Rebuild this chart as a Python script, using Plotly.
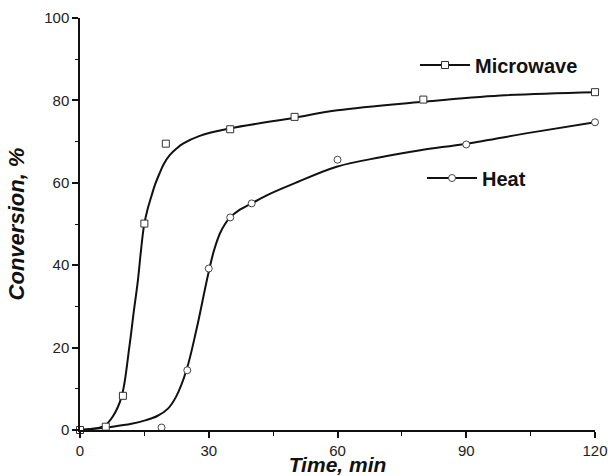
import plotly.graph_objects as go

# Measured points
mw_time = [0, 6, 10, 15, 20, 35, 50, 80, 120]
mw_conv = [0, 0.8, 8.3, 50.1, 69.5, 73, 76, 80.2, 82]
heat_time = [19, 25, 30, 35, 40, 60, 90, 120]
heat_conv = [0.6, 14.5, 39.2, 51.6, 55, 65.6, 69.3, 74.7]

# Fitted curves
mw_fit_time = [0, 3, 5.7, 7.6, 9.7, 11.5, 12.5, 13.5, 14.2, 14.9, 15.8, 16.6, 17.5, 18.5,
               19.5, 20.9, 22.5, 24, 27.9, 35, 50, 60, 79.3, 98, 120]
mw_fit_conv = [0, 0.3, 1, 3.2, 8.1, 20.2, 28.5, 36.4, 43.5, 49.5, 53.8, 56.6, 59.6, 62.2,
               64.5, 66.7, 68.3, 69.5, 71.4, 73.2, 75.8, 77.6, 79.6, 81.2, 82]
heat_fit_time = [0, 7.6, 12, 15.4, 18, 20.5, 22.4, 24.8, 27.1, 29.8, 31.2, 32.6, 33.8, 35, 37,
                 40, 44, 49.8, 59.8, 70, 79.3, 90, 105.7, 120]
heat_fit_conv = [0, 0.8, 1.5, 2.4, 3.4, 5.2, 8.1, 14.5, 24.2, 37.5, 43.5, 47.7, 50, 51.6, 53.3,
                 55, 57.2, 59.8, 63.9, 66.2, 67.9, 69.5, 72.3, 74.7]

ink = "#111111"
fig = go.Figure()

fig.add_trace(go.Scatter(x=mw_fit_time, y=mw_fit_conv, mode="lines",
                         line=dict(color=ink, width=2, shape="spline", smoothing=1.0),
                         showlegend=False, hoverinfo="skip"))
fig.add_trace(go.Scatter(x=heat_fit_time, y=heat_fit_conv, mode="lines",
                         line=dict(color=ink, width=2, shape="spline", smoothing=1.0),
                         showlegend=False, hoverinfo="skip"))
fig.add_trace(go.Scatter(x=mw_time, y=mw_conv, mode="markers", cliponaxis=False,
                         marker=dict(symbol="square", size=7, color="white",
                                     line=dict(color="#333", width=1)),
                         showlegend=False))
fig.add_trace(go.Scatter(x=heat_time, y=heat_conv, mode="markers", cliponaxis=False,
                         marker=dict(symbol="circle", size=7, color="white",
                                     line=dict(color="#444", width=1)),
                         showlegend=False))

# legend entries
fig.add_trace(go.Scatter(x=[None], y=[None], mode="lines+markers", name="Microwave",
                         line=dict(color=ink, width=2),
                         marker=dict(symbol="square", size=7, color="white",
                                     line=dict(color="#333", width=1)),
                         legend="legend"))
fig.add_trace(go.Scatter(x=[None], y=[None], mode="lines+markers", name="Heat",
                         line=dict(color=ink, width=2),
                         marker=dict(symbol="circle", size=7, color="white",
                                     line=dict(color="#444", width=1)),
                         legend="legend2"))

axis_common = dict(showline=True, linecolor=ink, linewidth=1.5, showgrid=False,
                   zeroline=False, ticks="outside", tickcolor=ink, tickwidth=1.5,
                   automargin=False,
                   tickfont=dict(family="Arial", size=15, color="#222"))

legend_font = dict(family="Arial", size=20, color=ink, weight="bold")

fig.update_layout(
    width=608, height=476,
    margin=dict(l=80, r=13, t=18, b=46),
    paper_bgcolor="white", plot_bgcolor="white",
    xaxis=dict(range=[0, 120], tickvals=[0, 30, 60, 90, 120], ticklen=6,
               minor=dict(dtick=15, ticklen=4, ticks="outside", tickcolor=ink, tickwidth=1),
               title=dict(text="Time, min", standoff=2,
                          font=dict(family="Arial", size=21, weight="bold", style="italic", color=ink)),
               **axis_common),
    yaxis=dict(range=[0, 100], tickvals=[0, 20, 40, 60, 80, 100], ticklen=6,
               minor=dict(dtick=10, ticklen=3, ticks="outside", tickcolor=ink, tickwidth=1),
               title=dict(text="Conversion, %", standoff=14,
                          font=dict(family="Arial", size=22, weight="bold", style="italic", color=ink)),
               **axis_common),
    legend=dict(x=(415 - 80) / 515, y=(430 - 65) / 412, xanchor="left", yanchor="middle",
                font=legend_font, bgcolor="rgba(0,0,0,0)", itemwidth=50),
    legend2=dict(x=(422 - 80) / 515, y=(430 - 178) / 412, xanchor="left", yanchor="middle",
                 font=legend_font, bgcolor="rgba(0,0,0,0)", itemwidth=50),
)

fig.write_html("out.html", config={"displayModeBar": False},
               post_script="document.body.style.margin='0';document.body.style.padding='0';")
